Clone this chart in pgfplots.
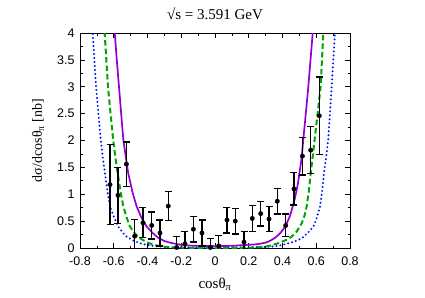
\documentclass[border=0pt]{standalone}
\usepackage{fontspec}
\setmainfont{Liberation Serif}
\newfontfamily\arial{Liberation Sans}
\usepackage{pgfplots}
\pgfplotsset{compat=1.18}
\definecolor{cpurple}{RGB}{148,0,211}
\definecolor{cgreen}{RGB}{0,165,0}
\definecolor{cblue}{RGB}{0,16,255}

\pgfplotstableread{
x y e
-0.622 1.18 0.74
-0.575 0.98 0.52
-0.525 1.56 0.41
-0.476 0.22 0.31
-0.427 0.47 0.28
-0.375 0.42 0.25
-0.326 0.28 0.24
-0.277 0.78 0.27
-0.227 0.01 0.20
-0.178 0.08 0.23
-0.128 0.35 0.24
-0.077 0.28 0.24
-0.028 0.01 0.17
0.022 0.04 0.19
0.071 0.52 0.24
0.120 0.50 0.24
0.172 0.11 0.20
0.221 0.55 0.24
0.271 0.64 0.23
0.320 0.54 0.23
0.369 0.87 0.24
0.419 0.42 0.21
0.468 1.10 0.30
0.518 1.71 0.35
0.567 1.82 0.44
0.618 2.46 0.72
}\datatab

\pgfplotstableread{
x y
-0.606 4.50
-0.594 4.00
-0.582 3.50
-0.569 3.00
-0.556 2.50
-0.543 2.01
-0.528 1.68
-0.514 1.39
-0.490 1.05
-0.464 0.77
-0.435 0.56
-0.405 0.40
-0.370 0.28
-0.336 0.19
-0.300 0.13
-0.267 0.10
-0.230 0.075
-0.200 0.06
-0.150 0.045
-0.100 0.04
0.000 0.035
0.100 0.04
0.150 0.05
0.200 0.06
0.250 0.07
0.286 0.09
0.310 0.11
0.336 0.15
0.360 0.20
0.385 0.27
0.405 0.35
0.425 0.46
0.445 0.60
0.460 0.77
0.473 0.92
0.484 1.08
0.493 1.23
0.500 1.39
0.508 1.55
0.514 1.70
0.523 2.01
0.538 2.50
0.553 3.00
0.566 3.50
0.579 4.00
0.591 4.50
}\purpletab

\pgfplotstableread{
x y
-0.663 4.50
-0.654 4.00
-0.644 3.50
-0.634 3.00
-0.619 2.50
-0.603 2.00
-0.590 1.68
-0.577 1.39
-0.560 1.05
-0.543 0.77
-0.524 0.57
-0.504 0.40
-0.475 0.27
-0.444 0.18
-0.405 0.11
-0.366 0.06
-0.310 0.025
-0.250 0.01
-0.150 0.004
0.000 0.002
0.150 0.004
0.250 0.012
0.306 0.03
0.340 0.055
0.375 0.09
0.415 0.14
0.454 0.21
0.485 0.31
0.514 0.46
0.530 0.60
0.543 0.77
0.556 1.05
0.567 1.39
0.579 1.70
0.590 2.01
0.608 2.50
0.626 3.00
0.634 3.50
0.642 4.00
0.650 4.50
}\greentab

\pgfplotstableread{
x y
-0.735 4.50
-0.725 4.00
-0.715 3.50
-0.705 3.00
-0.691 2.50
-0.677 2.01
-0.665 1.68
-0.652 1.39
-0.637 1.05
-0.622 0.77
-0.598 0.57
-0.573 0.40
-0.548 0.29
-0.523 0.21
-0.485 0.14
-0.444 0.087
-0.400 0.055
-0.345 0.03
-0.270 0.015
-0.200 0.01
0.000 0.005
0.200 0.01
0.280 0.018
0.346 0.03
0.390 0.05
0.425 0.08
0.470 0.12
0.514 0.18
0.550 0.28
0.583 0.40
0.603 0.56
0.622 0.77
0.635 1.05
0.646 1.39
0.659 1.70
0.671 2.01
0.681 2.50
0.691 3.00
0.701 3.50
0.711 4.00
0.721 4.50
}\bluetab

\begin{document}
\begin{tikzpicture}[x=1pt,y=1pt]
\useasboundingbox (0,0) rectangle (425,297);
\begin{axis}[
    at={(80pt,49pt)}, anchor=south west,
    scale only axis, width=270pt, height=215pt,
    xmin=-0.8, xmax=0.8, ymin=0, ymax=4,
    xtick={-0.8,-0.6,...,0.8},
    xticklabels={-0.8,-0.6,-0.4,-0.2,0,0.2,0.4,0.6,0.8},
    ytick={0,0.5,...,4},
    yticklabels={0,0.5,1,1.5,2,2.5,3,3.5,4},
    minor x tick num=1, minor y tick num=1,
    tick align=inside, major tick length=5pt, minor tick length=2.5pt,
    tick style={black, line width=0.7pt},
    axis line style={line width=0.8pt},
    tick label style={font=\arial\fontsize{12.5}{14}\selectfont},
    xticklabel style={yshift=-5pt},
    yticklabel style={xshift=-2pt},
    title={√s = 3.591 GeV},
    title style={at={(axis description cs:0.5,1.06)}, anchor=center, font=\fontsize{15}{17}\selectfont},
    xlabel={cosθ\textsubscript{π}},
    xlabel style={at={(axis description cs:0.5,-0.17)}, anchor=center, font=\fontsize{15}{17}\selectfont},
    ylabel={dσ/dcosθ\textsubscript{π} [nb]},
    ylabel style={at={(axis description cs:-0.155,0.5)}, anchor=center, font=\fontsize{14}{16}\selectfont},
]
\addplot[color=cblue, line width=2.2pt, dash pattern=on 0pt off 4pt, line cap=round] table[x=x,y=y] {\bluetab};
\addplot[color=cgreen, line width=2pt, dash pattern=on 5.5pt off 3pt] table[x=x,y=y] {\greentab};
\addplot[color=cpurple, line width=1.7pt] table[x=x,y=y] {\purpletab};
\addplot[only marks, mark=*, mark size=2.2pt, black,
    error bars/.cd, y dir=both, y explicit,
    error bar style={line width=1.3pt},
    error mark options={rotate=90, mark size=3.5pt, line width=1.3pt}]
    table[x=x, y=y, y error=e] {\datatab};
\end{axis}
\end{tikzpicture}
\end{document}
